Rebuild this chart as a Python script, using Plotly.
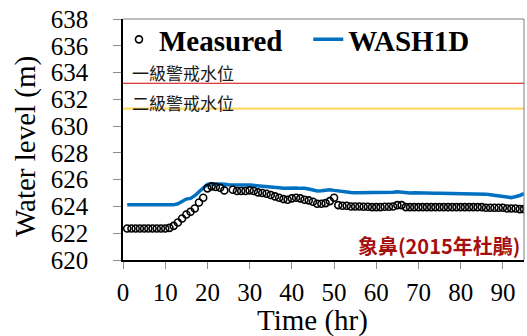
import plotly.graph_objects as go

# ---- data ----
time_hr = list(range(1, 96))

measured = [
    622.35, 622.35, 622.35, 622.35, 622.35, 622.35, 622.35, 622.35, 622.35, 622.35,  # 1-10
    622.4, 622.55, 622.8, 623.1, 623.4, 623.6, 623.85, 624.3, 624.65, 625.35,       # 11-20
    625.5, 625.45, 625.4, 625.2, None, 625.25, 625.15, 625.15, 625.15, 625.2,       # 21-30
    625.15, 625.05, 625.0, 624.95, 624.85, 624.75, 624.65, 624.55, 624.5, 624.6,    # 31-40
    624.65, 624.6, 624.5, 624.45, 624.35, 624.2, 624.2, 624.25, 624.4, 624.65,      # 41-50
    624.1, 624.05, 624.05, 624.0, 624.0, 624.0, 623.98, 623.98, 623.95, 623.95,     # 51-60
    623.95, 623.98, 623.98, 624.0, 624.1, 624.1, 623.95, 623.95, 623.95, 623.95,    # 61-70
    623.95, 623.95, 623.95, 623.95, 623.95, 623.95, 623.95, 623.95, 623.95, 623.95, # 71-80
    623.95, 623.95, 623.95, 623.95, 623.95, 623.9, 623.9, 623.9, 623.9, 623.9,      # 81-90
    623.85, 623.85, 623.85, 623.8, 623.8,                                           # 91-95
]

wash1d = [
    624.12, 624.12, 624.12, 624.12, 624.12, 624.12, 624.12, 624.12, 624.12, 624.12,  # 1-10
    624.12, 624.12, 624.2, 624.4, 624.55, 624.6, 624.8, 625.1, 625.4, 625.65,       # 11-20
    625.7, 625.7, 625.65, 625.65, 625.62, 625.6, 625.6, 625.58, 625.6, 625.6,       # 21-30
    625.58, 625.55, 625.52, 625.5, 625.45, 625.42, 625.4, 625.36, 625.38, 625.4,    # 31-40
    625.38, 625.35, 625.36, 625.3, 625.22, 625.16, 625.18, 625.22, 625.25, 625.2,   # 41-50
    625.15, 625.1, 625.08, 625.05, 625.03, 625.03, 625.05, 625.03, 625.0, 625.0,    # 51-60
    625.02, 625.0, 625.03, 625.06, 625.1, 625.05, 625.0, 625.0, 625.02, 625.0,      # 61-70
    624.98, 624.98, 624.98, 624.98, 624.98, 624.98, 624.98, 624.98, 624.98, 624.98, # 71-80
    624.92, 624.92, 624.92, 624.92, 624.92, 624.92, 624.88, 624.85, 624.8, 624.76,  # 81-90
    624.7, 624.66, 624.72, 624.82, 624.95,                                          # 91-95
]

alert_level_1 = 633.2   # 一級警戒水位
alert_level_2 = 631.3   # 二級警戒水位
alert_labels = ["一級警戒水位", "二級警戒水位"]
station_label = "象鼻(2015年杜鵑)"
x_title = "Time (hr)"
y_title = "Water level (m)"

x_ticks = [0, 10, 20, 30, 40, 50, 60, 70, 80, 90]
y_ticks = [620, 622, 624, 626, 628, 630, 632, 634, 636, 638]

SERIF = "Liberation Serif"
CJK = "Noto Sans CJK TC"

fig = go.Figure()

fig.add_trace(go.Scatter(
    x=time_hr, y=wash1d, mode="lines", name="WASH1D",
    line=dict(color="#0070C0", width=3.5), legend="legend2",
))
fig.add_trace(go.Scatter(
    x=time_hr, y=measured, mode="markers", name="Measured",
    marker=dict(symbol="circle-open", size=7, color="black", line=dict(width=1.6)),
    legend="legend",
))

# alert level lines
fig.add_shape(type="line", xref="paper", x0=0, x1=1, yref="y",
              y0=alert_level_1, y1=alert_level_1,
              line=dict(color="#D00000", width=1.2))
fig.add_shape(type="line", xref="paper", x0=0, x1=1, yref="y",
              y0=alert_level_2, y1=alert_level_2,
              line=dict(color="#FFD966", width=2.2))

# gray top/right border
fig.add_shape(type="line", xref="paper", yref="paper", x0=0, x1=1, y0=1, y1=1,
              line=dict(color="#7f7f7f", width=1))
fig.add_shape(type="line", xref="paper", yref="paper", x0=1, x1=1, y0=0, y1=1,
              line=dict(color="#7f7f7f", width=1))

fig.add_annotation(x=1.6, xanchor="left", y=alert_level_1, yanchor="bottom", yshift=-4,
                   text=alert_labels[0], showarrow=False,
                   font=dict(family=CJK, size=17, color="#1a1a1a"))
fig.add_annotation(x=1.6, xanchor="left", y=alert_level_2, yanchor="bottom", yshift=-8,
                   text=alert_labels[1], showarrow=False,
                   font=dict(family=CJK, size=17, color="#1a1a1a"))
fig.add_annotation(xref="paper", x=0.995, xanchor="right", yref="paper", y=0.062,
                   yanchor="middle", text="<b>" + station_label + "</b>", showarrow=False,
                   font=dict(family=CJK, size=20, color="#A50F0F"))

# axis titles
fig.add_annotation(xref="paper", yref="paper", x=-0.2444, y=0.473,
                   xanchor="center", yanchor="middle", textangle=-90,
                   text=y_title, showarrow=False,
                   font=dict(family=SERIF, size=29, color="black"))
fig.add_annotation(xref="paper", yref="paper", x=0.4738, y=-0.249,
                   xanchor="center", yanchor="middle",
                   text=x_title, showarrow=False,
                   font=dict(family=SERIF, size=29, color="black"))

legend_font = dict(family=SERIF, size=29, color="black", weight="bold")

fig.update_layout(
    width=527, height=336,
    margin=dict(l=123, r=3, t=19, b=76),
    paper_bgcolor="white", plot_bgcolor="white",
    font=dict(family=SERIF, color="black"),
    showlegend=True,
    legend=dict(
        x=-0.01, xanchor="left", y=0.915, yanchor="middle",
        font=legend_font, bgcolor="rgba(0,0,0,0)",
    ),
    legend2=dict(
        x=0.462, xanchor="left", y=0.915, yanchor="middle",
        font=legend_font, bgcolor="rgba(0,0,0,0)",
    ),
    xaxis=dict(
        range=[0, 95], tickvals=x_ticks, ticks="outside", ticklen=7,
        tickcolor="#8c8c8c", tickwidth=1,
        showline=True, linecolor="black", linewidth=1.5,
        showgrid=False, zeroline=False,
        tickfont=dict(family=SERIF, size=25, color="black"),
        ticklabelstandoff=2,
    ),
    yaxis=dict(
        range=[620, 638], tickvals=y_ticks, ticks="outside", ticklen=8,
        tickcolor="#8c8c8c", tickwidth=1,
        showline=True, linecolor="black", linewidth=1.5,
        showgrid=False, zeroline=False,
        tickfont=dict(family=SERIF, size=25, color="black"),
        ticklabelstandoff=20,
    ),
)

fig.write_html("out.html")
